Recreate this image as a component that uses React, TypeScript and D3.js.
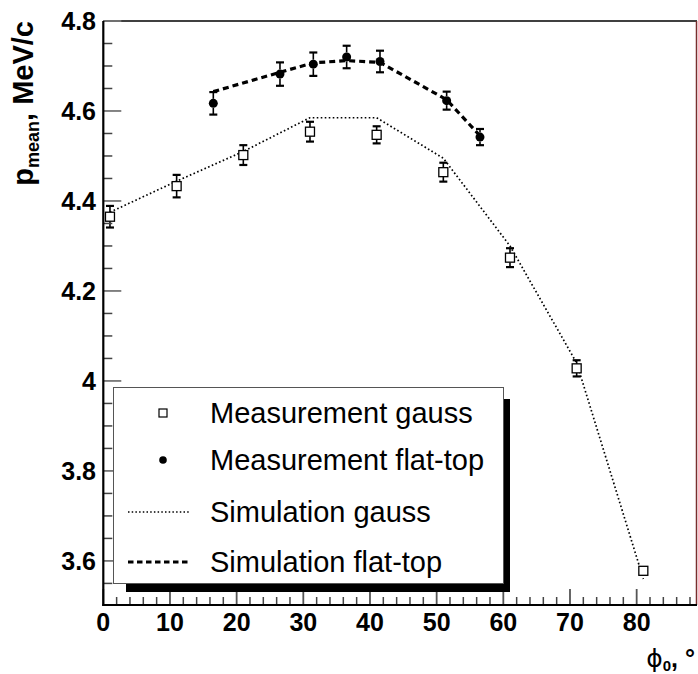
import React from "react";
import * as d3 from "d3";

const gaussX = [1, 11, 21, 31, 41, 51, 61, 71, 81];
const gaussY = [4.365, 4.433, 4.502, 4.554, 4.547, 4.464, 4.274, 4.028, 3.578];
const gaussErr = [0.024, 0.025, 0.022, 0.022, 0.019, 0.021, 0.021, 0.018, 0.008];

const flatX = [16.5, 26.5, 31.5, 36.5, 41.5, 51.5, 56.5];
const flatY = [4.617, 4.682, 4.704, 4.72, 4.71, 4.623, 4.542];
const flatErr = [0.025, 0.026, 0.026, 0.025, 0.024, 0.02, 0.018];

const simGaussX = [1, 11, 21, 31, 41, 51, 61, 71, 81];
const simGaussY = [4.375, 4.444, 4.51, 4.585, 4.585, 4.495, 4.3, 4.04, 3.56];

const simFlatX = [16.5, 26.5, 31.5, 36.5, 41.5, 51.5, 56.5];
const simFlatY = [4.643, 4.686, 4.707, 4.712, 4.708, 4.625, 4.545];

const xMajor = [0, 10, 20, 30, 40, 50, 60, 70, 80];
const xLabels = ["0", "10", "20", "30", "40", "50", "60", "70", "80"];
const yMajor = [3.6, 3.8, 4.0, 4.2, 4.4, 4.6, 4.8];
const yLabels = ["3.6", "3.8", "4", "4.2", "4.4", "4.6", "4.8"];

const legendLabels = [
  "Measurement gauss",
  "Measurement flat-top",
  "Simulation gauss",
  "Simulation flat-top",
];

const W = 698;
const H = 674;
const L = 103.3;
const R = 697;
const T = 21;
const B = 605;

export default function App() {
  const x = d3.scaleLinear().domain([0, 89.05]).range([L, R]);
  const y = d3.scaleLinear().domain([3.502, 4.8]).range([B, T]);

  const xMinor = d3.range(0, 89, 2).filter((v) => v % 10 !== 0);
  const yMinor = d3
    .range(71, 96)
    .map((k) => k * 0.05)
    .filter((v) => Math.abs(v * 5 - Math.round(v * 5)) > 0.01);

  const mk = d3
    .line<[number, number]>()
    .x((d) => x(d[0]))
    .y((d) => y(d[1]));
  const simGaussPath = mk(simGaussX.map((v, i) => [v, simGaussY[i]] as [number, number]));
  const simFlatPath = mk(simFlatX.map((v, i) => [v, simFlatY[i]] as [number, number]));

  const font = "'Liberation Sans', Arial, Helvetica, sans-serif";
  const sq = 9;
  const cr = 4.5;
  const cap = 4;

  const errBar = (cx: number, cy: number, e: number, half: number, key: string) => {
    const yt = y(cy + e);
    const yb = y(cy - e);
    const yc = y(cy);
    return (
      <g key={key} stroke="#000" strokeWidth={1.6}>
        {yc - half > yt && <line x1={x(cx)} x2={x(cx)} y1={yc - half} y2={yt} />}
        {yc + half < yb && <line x1={x(cx)} x2={x(cx)} y1={yc + half} y2={yb} />}
        <line x1={x(cx) - cap} x2={x(cx) + cap} y1={yt} y2={yt} strokeWidth={2.2} />
        <line x1={x(cx) - cap} x2={x(cx) + cap} y1={yb} y2={yb} strokeWidth={2.2} />
      </g>
    );
  };

  const legRows = [413, 460, 512, 562];

  return (
    <svg
      width={W}
      height={H}
      style={{ position: "fixed", left: 0, top: 0, background: "#fff" }}
    >
      <rect x={0} y={0} width={W} height={H} fill="#fff" />

      {/* sim lines */}
      <path
        d={simGaussPath || ""}
        fill="none"
        stroke="#000"
        strokeWidth={1.7}
        strokeDasharray="1.6 2.4"
      />
      <path
        d={simFlatPath || ""}
        fill="none"
        stroke="#000"
        strokeWidth={3.2}
        strokeDasharray="6 4"
      />

      {/* error bars */}
      {gaussX.map((v, i) => errBar(v, gaussY[i], gaussErr[i], sq / 2, "ge" + i))}
      {flatX.map((v, i) => errBar(v, flatY[i], flatErr[i], cr, "fe" + i))}

      {/* markers */}
      {gaussX.map((v, i) => (
        <rect
          key={"g" + i}
          x={x(v) - sq / 2}
          y={y(gaussY[i]) - sq / 2}
          width={sq}
          height={sq}
          fill="#fff"
          stroke="#000"
          strokeWidth={1.3}
        />
      ))}
      {flatX.map((v, i) => (
        <circle key={"f" + i} cx={x(v)} cy={y(flatY[i])} r={cr} fill="#000" />
      ))}

      {/* frame */}
      <line x1={L} x2={R} y1={T} y2={T} stroke="#000" strokeWidth={1.5} />
      <line x1={R - 0.5} x2={R - 0.5} y1={T} y2={B} stroke="#7a2e2e" strokeWidth={1.5} />

      {/* y ticks */}
      {yMinor.map((v, i) => (
        <line key={"ym" + i} x1={L} x2={L + 9} y1={y(v)} y2={y(v)} stroke="#444" strokeWidth={1.5} />
      ))}
      {yMajor.map((v, i) => (
        <line key={"yM" + i} x1={L} x2={L + 18} y1={y(v)} y2={y(v)} stroke="#777" strokeWidth={1.8} />
      ))}
      {/* x ticks */}
      {xMinor.map((v, i) => (
        <line key={"xm" + i} x1={x(v)} x2={x(v)} y1={B} y2={B - 8} stroke="#444" strokeWidth={1.5} />
      ))}
      {xMajor.map((v, i) => (
        <line key={"xM" + i} x1={x(v)} x2={x(v)} y1={B} y2={B - 16} stroke="#555" strokeWidth={1.8} />
      ))}

      <line x1={L} x2={L} y1={T} y2={B + 1} stroke="#000" strokeWidth={2.2} />
      <line x1={L - 1} x2={R} y1={B} y2={B} stroke="#000" strokeWidth={2.2} />

      {/* tick labels */}
      {yMajor.map((v, i) => (
        <text
          key={"yl" + i}
          x={96}
          y={y(v) + 8.8}
          textAnchor="end"
          fontFamily={font}
          fontWeight="bold"
          fontSize={25}
        >
          {yLabels[i]}
        </text>
      ))}
      {xMajor.map((v, i) => (
        <text
          key={"xl" + i}
          x={x(v)}
          y={631}
          textAnchor="middle"
          fontFamily={font}
          fontWeight="bold"
          fontSize={25}
        >
          {xLabels[i]}
        </text>
      ))}

      {/* axis titles */}
      <text
        transform="translate(33,21) rotate(-90)"
        textAnchor="end"
        fontFamily={font}
        fontWeight="bold"
        fontSize={29}
      >
        p
        <tspan fontSize={18} dy={6}>
          mean
        </tspan>
        <tspan dy={-6}>, MeV/c</tspan>
      </text>
      <text x={695} y={667} textAnchor="end" fontFamily={font} fontSize={25}>
        <tspan fontFamily="'DejaVu Sans', sans-serif">ϕ</tspan>
        <tspan fontSize={15} fontWeight="bold" dy={4}>
          0
        </tspan>
        <tspan dy={-4} fontWeight="bold">, °</tspan>
      </text>

      {/* legend */}
      <rect x={126} y={399} width={384} height={193} fill="#000" />
      <rect x={113.5} y={387.5} width={390} height={196} fill="#fff" stroke="#555" strokeWidth={1} />
      <rect x={163 - 4} y={legRows[0] - 4} width={8} height={8} fill="#fff" stroke="#000" strokeWidth={1.2} />
      <circle cx={163} cy={legRows[1]} r={3.8} fill="#000" />
      <line x1={128} x2={190} y1={legRows[2]} y2={legRows[2]} stroke="#000" strokeWidth={1.5} strokeDasharray="1.5 2.2" />
      <line x1={128} x2={190} y1={legRows[3]} y2={legRows[3]} stroke="#000" strokeWidth={3} strokeDasharray="5.5 3.5" />
      {legendLabels.map((t, i) => (
        <text
          key={"lg" + i}
          x={210}
          y={legRows[i] + 10}
          fontFamily={font}
          fontSize={29}
        >
          {t}
        </text>
      ))}
    </svg>
  );
}
